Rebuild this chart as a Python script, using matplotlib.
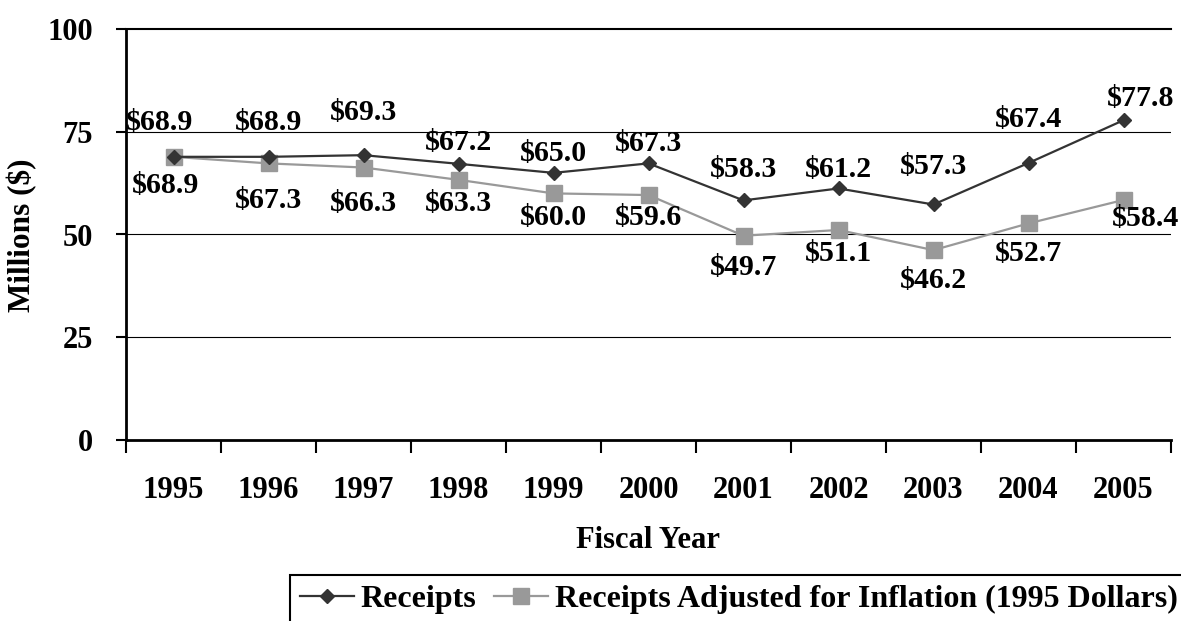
import matplotlib
matplotlib.use("Agg")
import matplotlib.pyplot as plt
from matplotlib.lines import Line2D

years = ["1995", "1996", "1997", "1998", "1999", "2000", "2001", "2002", "2003", "2004", "2005"]
receipts = [68.9, 68.9, 69.3, 67.2, 65.0, 67.3, 58.3, 61.2, 57.3, 67.4, 77.8]
adjusted = [68.9, 67.3, 66.3, 63.3, 60.0, 59.6, 49.7, 51.1, 46.2, 52.7, 58.4]
series_names = ["Receipts", "Receipts Adjusted for Inflation (1995 Dollars)"]
yticks = [0, 25, 50, 75, 100]

# label offsets in points (dx, dy) -- placement only
rec_off = [(-10, 25), (0, 25), (0, 31), (0, 15), (0, 14), (0, 14), (0, 22), (0, 14), (0, 27), (0, 31), (12, 16)]
adj_off = [(-6, -21), (0, -27), (0, -26), (0, -17), (0, -17), (0, -16), (0, -23), (0, -17), (0, -22), (0, -22), (16, -13)]

plt.rcParams['font.family'] = ['Liberation Serif', 'DejaVu Serif']
plt.rcParams['font.weight'] = 'bold'

W, H = 1181, 621
fig = plt.figure(figsize=(W / 100, H / 100), dpi=100)
ax = fig.add_axes([126 / W, 1 - 440 / H, (1171 - 126) / W, (440 - 29) / H])

x = list(range(len(years)))
c_rec = "#333333"
c_adj = "#999999"
ax.plot(x, receipts, color=c_rec, lw=1.6, marker="D", ms=7, zorder=4)
ax.plot(x, adjusted, color=c_adj, lw=1.6, marker="s", ms=11, zorder=3)

fs = 21.5
for i, v in enumerate(receipts):
    ax.annotate(f"${v:.1f}", (x[i], v), xytext=rec_off[i], textcoords="offset points",
                ha="center", va="center", fontsize=fs, fontweight="bold", zorder=5)
for i, v in enumerate(adjusted):
    ax.annotate(f"${v:.1f}", (x[i], v), xytext=adj_off[i], textcoords="offset points",
                ha="center", va="center", fontsize=fs, fontweight="bold", zorder=5)

ax.set_xlim(-0.5, len(years) - 0.5)
ax.set_ylim(0, 100)
for g in yticks[1:-1]:
    ax.axhline(g, color="black", lw=0.8, zorder=1)
ax.axhline(100, color="black", lw=1.5, zorder=1, clip_on=False)

ax.set_yticks(yticks)
ax.set_yticklabels([str(t) for t in yticks], fontsize=22, fontweight="bold")
ax.tick_params(axis="y", direction="out", length=7, width=1.5, pad=17)

ax.set_xticks([i - 0.5 for i in range(len(years) + 1)])
ax.set_xticklabels([])
ax.tick_params(axis="x", which="major", direction="out", length=9, width=1.5)
ax.set_xticks(x, minor=True)
ax.set_xticklabels(years, minor=True, fontsize=22, fontweight="bold")
ax.tick_params(axis="x", which="minor", length=0, pad=26)

for s in ["top", "right"]:
    ax.spines[s].set_visible(False)
for s in ["left", "bottom"]:
    ax.spines[s].set_linewidth(2)

fig.text(22 / W, 1 - 235 / H, "Millions ($)", rotation=90, ha="center", va="center",
         fontsize=22.5, fontweight="bold")
fig.text(648 / W, 1 - 541 / H, "Fiscal Year", ha="center", va="center",
         fontsize=22, fontweight="bold")

handles = [Line2D([], [], color=c_rec, lw=1.6, marker="D", ms=7),
           Line2D([], [], color=c_adj, lw=1.6, marker="s", ms=11)]
leg = fig.legend(handles, series_names, loc="upper left",
                 bbox_to_anchor=(290 / W, 1 - 575 / H), ncol=2, frameon=True,
                 fancybox=False, framealpha=1, edgecolor="black",
                 prop={"size": 23, "weight": "bold"}, handlelength=1.7,
                 handletextpad=0.22, columnspacing=0.53, borderpad=0.3, borderaxespad=0)
leg.get_frame().set_linewidth(1.5)

fig.savefig("out.png", dpi=100)
